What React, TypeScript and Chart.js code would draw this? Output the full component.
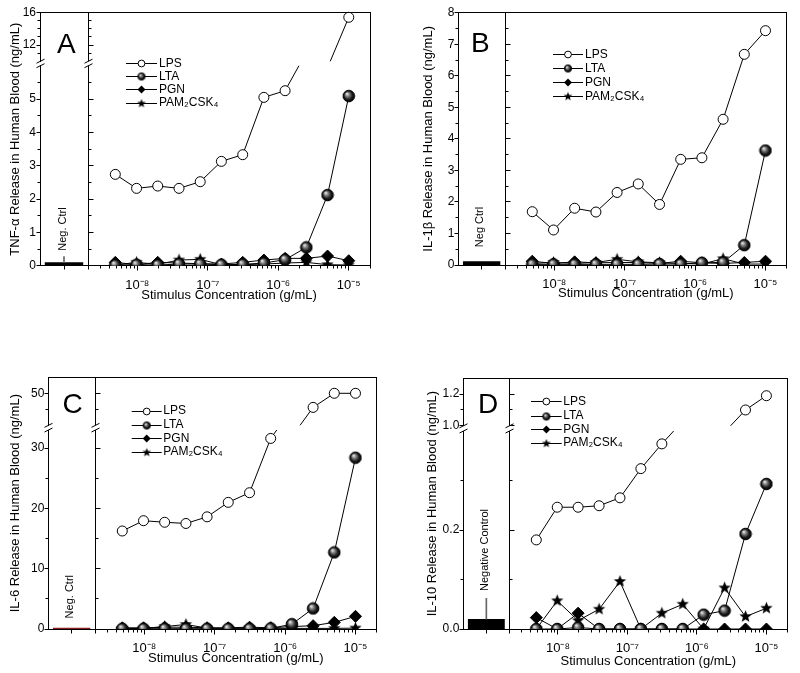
import React, { useEffect, useRef } from 'react';
import { Chart, registerables } from 'chart.js';

Chart.register(...registerables);

const FONT = "'Liberation Sans', Arial, Helvetica, sans-serif";
Chart.defaults.font.family = FONT;
Chart.defaults.color = '#000';

// ---------------- data ----------------
const CONC = [4.88e-9, 9.77e-9, 1.95e-8, 3.91e-8, 7.81e-8, 1.56e-7, 3.13e-7, 6.25e-7, 1.25e-6, 2.5e-6, 5e-6, 1e-5];
const SERIES = ['LPS', 'LTA', 'PGN', 'PAM\u2082CSK\u2084'];
const X_TICKS = [1e-8, 1e-7, 1e-6, 1e-5];
const X_TICK_LABELS = ['10\u207B\u2078', '10\u207B\u2077', '10\u207B\u2076', '10\u207B\u2075'];
const X_TITLE = 'Stimulus Concentration (g/mL)';

// Panel A: TNF-alpha
const TNF_LPS = [2.74, 2.32, 2.39, 2.32, 2.52, 3.13, 3.33, 5.05, 5.25, 6.4, 9.2, 15.43];
const TNF_LTA = [0.02, 0.03, 0.02, 0.05, 0.05, 0.03, 0.04, 0.08, 0.18, 0.55, 2.12, 5.09];
const TNF_PGN = [0.1, 0.03, 0.1, 0.08, 0.06, 0.05, 0.1, 0.17, 0.22, 0.22, 0.29, 0.15];
const TNF_PAM = [0.02, 0.1, 0.04, 0.17, 0.19, 0.03, 0.03, 0.05, 0.08, 0.1, 0.03, 0.02];
const TNF_NEG = 0.1;
const TNF_NEG_ERR = 0.27;
const TNF_HIGH_TICKS = [12, 16];
const TNF_HIGH_MINOR = [11, 13, 14, 15];
const TNF_LOW_TICKS = [0, 1, 2, 3, 4, 5];
const TNF_LOW_MINOR = [0.5, 1.5, 2.5, 3.5, 4.5, 5.5];

// Panel B: IL-1beta
const IL1B_LPS = [1.69, 1.11, 1.8, 1.68, 2.3, 2.57, 1.92, 3.35, 3.4, 4.62, 6.68, 7.43];
const IL1B_LTA = [0.02, 0.02, 0.02, 0.02, 0.02, 0.02, 0.03, 0.03, 0.07, 0.08, 0.63, 3.63];
const IL1B_PGN = [0.12, 0.05, 0.1, 0.07, 0.08, 0.08, 0.05, 0.12, 0.07, 0.05, 0.08, 0.12];
const IL1B_PAM = [0.05, 0.08, 0.05, 0.08, 0.18, 0.1, 0.07, 0.05, 0.03, 0.2, 0.03, 0.03];
const IL1B_NEG = 0.12;
const IL1B_TICKS = [0, 1, 2, 3, 4, 5, 6, 7, 8];
const IL1B_MINOR = [0.5, 1.5, 2.5, 3.5, 4.5, 5.5, 6.5, 7.5];

// Panel C: IL-6
const IL6_LPS = [16.25, 17.96, 17.7, 17.5, 18.6, 21.0, 22.6, 31.6, 36.5, 45.6, 50, 50];
const IL6_LTA = [0.05, 0.05, 0.05, 0.05, 0.05, 0.05, 0.05, 0.1, 0.8, 3.4, 12.7, 28.4];
const IL6_PGN = [0.2, 0.2, 0.3, 0.3, 0.2, 0.2, 0.3, 0.2, 0.4, 0.55, 1.1, 2.1];
const IL6_PAM = [0.05, 0.1, 0.4, 0.75, 0.15, 0.1, 0.2, 0.1, 0.1, 0.1, 0.1, 0.15];
const IL6_NEG = 0.2;
const IL6_HIGH_TICKS = [50];
const IL6_HIGH_MINOR = [45];
const IL6_LOW_TICKS = [0, 10, 20, 30];
const IL6_LOW_MINOR = [5, 15, 25];

// Panel D: IL-10
const IL10_LPS = [0.18, 0.246, 0.246, 0.249, 0.265, 0.324, 0.374, 0.42, 0.7, 0.96, 1.1, 1.19];
const IL10_LTA = [0, 0, 0.003, 0, 0, 0, 0, 0, 0.029, 0.037, 0.192, 0.293];
const IL10_PGN = [0.023, 0, 0.032, 0, 0, 0, 0, 0, 0, 0, 0, 0];
const IL10_PAM = [0, 0.057, 0.017, 0.04, 0.096, 0, 0.032, 0.05, 0, 0.083, 0.025, 0.042];
const IL10_NEG = 0.02;
const IL10_NEG_ERR = 0.062;
const IL10_HIGH_TICKS = [1.0, 1.2];
const IL10_HIGH_MINOR = [1.1];
const IL10_LOW_TICKS = [0, 0.2];
const IL10_LOW_MINOR = [0.1, 0.3];

// ---------------- layout ----------------
type Axis = { min: number; max: number; weight: number; majors: number[]; minors: number[] };
type PanelCfg = {
  left: number; top: number; width: number; height: number;
  pad: { top: number; right: number; bottom: number };
  titleW: number; titlePad: number; tickW: number;
  xH: number; xTitlePad: number;
  negW: number; mainW: number;
  yTitle: string; dec: number;
  letter: string; letterX: number; letterY: number;
  negLabel: string; negLabelX: number; negLabelY: number;
  high?: Axis; gap?: number; low: Axis;
  lps: number[]; lta: number[]; pgn: number[]; pam: number[];
  neg: number; negErr?: number; negColor: string;
  legend: { x1: number; x2: number; tx: number; rows: number[] };
};

const PANELS: PanelCfg[] = [
  {
    left: 0, top: 0, width: 400, height: 330,
    pad: { top: 12.7, right: 30, bottom: 19.3 },
    titleW: 6, titlePad: 7.2, tickW: 34, xH: 45, xTitlePad: 7.9,
    negW: 48, mainW: 282,
    yTitle: 'TNF-\u03B1 Release in Human Blood (ng/mL)', dec: 0,
    letter: 'A', letterX: 57, letterY: 53.3,
    negLabel: 'Neg. Ctrl', negLabelX: 63, negLabelY: 229,
    high: { min: 10, max: 16, weight: 48.5, majors: TNF_HIGH_TICKS, minors: TNF_HIGH_MINOR },
    gap: 4.5,
    low: { min: 0, max: 6, weight: 200, majors: TNF_LOW_TICKS, minors: TNF_LOW_MINOR },
    lps: TNF_LPS, lta: TNF_LTA, pgn: TNF_PGN, pam: TNF_PAM,
    neg: TNF_NEG, negErr: TNF_NEG_ERR, negColor: '#000',
    legend: { x1: 126, x2: 157, tx: 159, rows: [63.3, 76.5, 89.7, 103] },
  },
  {
    left: 400, top: 0, width: 400, height: 330,
    pad: { top: 12.7, right: 13.3, bottom: 20 },
    titleW: 6, titlePad: 20.2, tickW: 52.3, xH: 45, xTitlePad: 8.9,
    negW: 46.7, mainW: 281.7,
    yTitle: 'IL-1\u03B2 Release in Human Blood (ng/mL)', dec: 0,
    letter: 'B', letterX: 71, letterY: 51.7,
    negLabel: 'Neg Ctrl', negLabelX: 80, negLabelY: 227,
    low: { min: 0, max: 8, weight: 1, majors: IL1B_TICKS, minors: IL1B_MINOR },
    lps: IL1B_LPS, lta: IL1B_LTA, pgn: IL1B_PGN, pam: IL1B_PAM,
    neg: IL1B_NEG, negColor: '#000',
    legend: { x1: 153, x2: 183, tx: 185, rows: [54.3, 68.3, 82.3, 96.3] },
  },
  {
    left: 0, top: 340, width: 400, height: 333,
    pad: { top: 37.3, right: 23.3, bottom: 2 },
    titleW: 6, titlePad: 7.2, tickW: 42.3, xH: 42, xTitlePad: 4.9,
    negW: 46.7, mainW: 281.7,
    yTitle: 'IL-6 Release in Human Blood (ng/mL)', dec: 0,
    letter: 'C', letterX: 62.5, letterY: 73,
    negLabel: 'Neg. Ctrl', negLabelX: 70, negLabelY: 256.7,
    high: { min: 40, max: 55, weight: 48, majors: IL6_HIGH_TICKS, minors: IL6_HIGH_MINOR },
    gap: 4.7,
    low: { min: 0, max: 33, weight: 199, majors: IL6_LOW_TICKS, minors: IL6_LOW_MINOR },
    lps: IL6_LPS, lta: IL6_LTA, pgn: IL6_PGN, pam: IL6_PAM,
    neg: IL6_NEG, negColor: '#8b1f1f',
    legend: { x1: 131.7, x2: 161.7, tx: 163.3, rows: [71, 85, 98.3, 112] },
  },
  {
    left: 400, top: 340, width: 400, height: 333,
    pad: { top: 38.3, right: 8.3, bottom: 2 },
    titleW: 6, titlePad: 24.2, tickW: 57.3, xH: 42, xTitlePad: 1.5,
    negW: 46.7, mainW: 281.7,
    yTitle: 'IL-10 Release in Human Blood (ng/mL)', dec: 1,
    letter: 'D', letterX: 78, letterY: 73,
    negLabel: 'Negative Control', negLabelX: 85, negLabelY: 210,
    high: { min: 1.0, max: 1.3, weight: 47.5, majors: IL10_HIGH_TICKS, minors: IL10_HIGH_MINOR },
    gap: 5.2,
    low: { min: 0, max: 0.4, weight: 198, majors: IL10_LOW_TICKS, minors: IL10_LOW_MINOR },
    lps: IL10_LPS, lta: IL10_LTA, pgn: IL10_PGN, pam: IL10_PAM,
    neg: IL10_NEG, negErr: IL10_NEG_ERR, negColor: '#000',
    legend: { x1: 131, x2: 161.7, tx: 163.3, rows: [61.7, 76, 89.3, 103] },
  },
];

// ---------------- marker images ----------------
let MK: any = null;
function markers() {
  if (MK) return MK;
  const star = (r: number, ri: number) => {
    const s = Math.ceil(2 * r + 2);
    const c = document.createElement('canvas');
    c.width = s; c.height = s;
    const g = c.getContext('2d') as CanvasRenderingContext2D;
    g.translate(s / 2, s / 2);
    g.beginPath();
    for (let i = 0; i < 10; i++) {
      const rr = i % 2 === 0 ? r : ri;
      const a = -Math.PI / 2 + (i * Math.PI) / 5;
      g.lineTo(rr * Math.cos(a), rr * Math.sin(a));
    }
    g.closePath();
    g.fillStyle = '#000';
    g.fill();
    return c;
  };
  const sphere = (r: number) => {
    const s = Math.ceil(2 * r + 2);
    const c = document.createElement('canvas');
    c.width = s; c.height = s;
    const g = c.getContext('2d') as CanvasRenderingContext2D;
    const m = s / 2;
    const grad = g.createRadialGradient(m - r * 0.35, m - r * 0.4, r * 0.05, m, m, r);
    grad.addColorStop(0, '#f2f2f2');
    grad.addColorStop(0.3, '#8a8a8a');
    grad.addColorStop(0.7, '#1e1e1e');
    grad.addColorStop(1, '#000');
    g.beginPath();
    g.arc(m, m, r, 0, Math.PI * 2);
    g.fillStyle = grad;
    g.fill();
    g.lineWidth = 1;
    g.strokeStyle = '#000';
    g.stroke();
    return c;
  };
  MK = { star: star(6.5, 2.8), sphere: sphere(5.8), starS: star(4.6, 2), sphereS: sphere(3.6) };
  return MK;
}

// ---------------- plugins ----------------
const clipPlugin = {
  id: 'axisClip',
  beforeDatasetDraw(chart: any, args: any) {
    const ys = args.meta.yScale;
    const ctx = chart.ctx as CanvasRenderingContext2D;
    ctx.save();
    ctx.beginPath();
    const top = ys.id === 'yHigh' ? 0 : ys.top;
    ctx.rect(0, top, chart.width, ys.bottom - top);
    ctx.clip();
  },
  afterDatasetDraw(chart: any) {
    chart.ctx.restore();
  },
};

function decorPlugin(p: PanelCfg) {
  return {
    id: 'decor',
    afterDraw(chart: any) {
      const ctx = chart.ctx as CanvasRenderingContext2D;
      const s = chart.scales;
      const xN = s.xNeg, xM = s.xMain, yL = s.yLow, yH = s.yHigh;
      const a = (v: number) => Math.round(v - 0.5) + 0.5;
      const L = a(xN.left), I = a(xM.left), R = a(xM.right);
      const T = a(chart.chartArea.top), B = a(chart.chartArea.bottom);
      const ln = (x1: number, y1: number, x2: number, y2: number) => {
        ctx.beginPath(); ctx.moveTo(x1, y1); ctx.lineTo(x2, y2); ctx.stroke();
      };
      ctx.save();
      ctx.strokeStyle = '#000';
      ctx.lineWidth = 1;
      ln(L - 0.5, T, R + 0.5, T);
      ln(R, T, R, B);
      const list: [any, Axis][] = [[yL, p.low]];
      if (yH && p.high) list.push([yH, p.high]);
      for (const [sc, ax] of list) {
        ln(I, sc.top, I, sc.bottom);
        for (const v of ax.majors) {
          const y = a(sc.getPixelForValue(v));
          ln(L - 4, y, L, y); ln(I, y, I + 5, y);
        }
        for (const v of ax.minors) {
          const y = a(sc.getPixelForValue(v));
          ln(L - 3, y, L, y); ln(I, y, I + 3, y);
        }
      }
      for (let d = -9; d <= -5; d++) {
        for (let k = 1; k <= 9; k++) {
          const v = k * Math.pow(10, d);
          if (v < xM.min * 1.0001 || v > xM.max) continue;
          const x = a(xM.getPixelForValue(v));
          ln(x, B, x, B + (k === 1 ? 5 : 3));
        }
      }
      const xc = a((xN.left + xN.right) / 2);
      ln(xc, B, xc, B + 4);
      ln(I, B, I, B + 4);
      if (yH) {
        const g1 = yH.bottom, g2 = yL.top;
        for (const x of [L, I]) {
          ln(x - 4, g1 + 2, x + 4, g1 - 2);
          ln(x - 4, g2 + 2, x + 4, g2 - 2);
        }
      }
      ctx.fillStyle = '#000';
      ctx.font = `28px ${FONT}`;
      ctx.textAlign = 'left';
      ctx.textBaseline = 'alphabetic';
      ctx.fillText(p.letter, p.letterX, p.letterY);

      ctx.save();
      ctx.translate(p.negLabelX, p.negLabelY);
      ctx.rotate(-Math.PI / 2);
      ctx.font = `11px ${FONT}`;
      ctx.textAlign = 'center';
      ctx.textBaseline = 'middle';
      ctx.fillText(p.negLabel, 0, 0);
      ctx.restore();

      const M = markers();
      const lg = p.legend;
      SERIES.forEach((name, i) => {
        const y = lg.rows[i];
        ln(lg.x1, a(y), lg.x2, a(y));
        const cx = (lg.x1 + lg.x2) / 2;
        if (i === 0) {
          ctx.beginPath(); ctx.arc(cx, a(y), 3.4, 0, Math.PI * 2);
          ctx.fillStyle = '#fff'; ctx.fill(); ctx.stroke();
        } else if (i === 1) {
          ctx.drawImage(M.sphereS, cx - M.sphereS.width / 2, a(y) - M.sphereS.height / 2);
        } else if (i === 2) {
          const r = 4;
          ctx.beginPath(); ctx.moveTo(cx, a(y) - r); ctx.lineTo(cx + r, a(y)); ctx.lineTo(cx, a(y) + r); ctx.lineTo(cx - r, a(y)); ctx.closePath();
          ctx.fillStyle = '#000'; ctx.fill();
        } else {
          ctx.drawImage(M.starS, cx - M.starS.width / 2, a(y) - M.starS.height / 2);
        }
        ctx.fillStyle = '#000';
        ctx.font = `12px ${FONT}`;
        ctx.textAlign = 'left';
        ctx.textBaseline = 'middle';
        ctx.fillText(name, lg.tx, y);
      });
      ctx.restore();
    },
  };
}

// ---------------- chart config ----------------
function buildConfig(p: PanelCfg): any {
  const M = markers();
  const styles: any[] = [
    { ps: 'circle', r: 5, bg: '#fff' },
    { ps: M.sphere, r: 6, bg: '#000' },
    { ps: 'rectRot', r: 6, bg: '#000' },
    { ps: M.star, r: 6, bg: '#000' },
  ];
  const vals = [p.lps, p.lta, p.pgn, p.pam];
  const mk = (v: number[], i: number, yAxisID: string) => ({
    type: 'line',
    label: SERIES[i],
    data: CONC.map((x, k) => ({ x, y: v[k] })),
    xAxisID: 'xMain',
    yAxisID,
    borderColor: '#000',
    borderWidth: 1,
    tension: 0,
    fill: false,
    pointStyle: styles[i].ps,
    pointRadius: styles[i].r,
    pointBackgroundColor: styles[i].bg,
    pointBorderColor: '#000',
    pointBorderWidth: 1,
    clip: false,
  });
  const datasets: any[] = vals.map((v, i) => mk(v, i, 'yLow'));
  if (p.high) datasets.push(mk(p.lps, 0, 'yHigh'));
  if (p.negErr !== undefined) {
    datasets.push({
      type: 'bar', data: [[p.neg, p.negErr]], xAxisID: 'xNeg', yAxisID: 'yLow',
      backgroundColor: '#666', barThickness: 1, grouped: false, clip: false,
    });
  }
  datasets.push({
    type: 'bar', data: [p.neg], xAxisID: 'xNeg', yAxisID: 'yLow',
    backgroundColor: p.negColor, barPercentage: 0.8, categoryPercentage: 1, grouped: false, clip: false,
  });

  const fmt = (v: any) => Number(v).toFixed(p.dec);
  const yAxis = (ax: Axis) => ({
    type: 'linear', position: 'left', stack: 'y', stackWeight: ax.weight,
    min: ax.min, max: ax.max,
    grid: { display: false, drawTicks: false },
    border: { display: true, color: '#000', width: 1 },
    ticks: { padding: 4, font: { size: 12 }, color: '#000', autoSkip: false, callback: fmt },
    afterBuildTicks: (sc: any) => { sc.ticks = ax.majors.map((value) => ({ value })); },
    afterFit: (sc: any) => { sc.width = p.tickW; },
  });

  // note: stacked left axes are laid out bottom-up in definition order
  const scales: any = {
    yTitle: {
      type: 'linear', position: 'left', weight: 5,
      grid: { display: false, drawTicks: false }, border: { display: false }, ticks: { display: false },
      title: { display: true, text: p.yTitle, color: '#000', font: { size: 13 }, padding: { top: p.titlePad, bottom: 0 } },
      afterFit: (sc: any) => { sc.width = p.titleW; },
    },
  };
  scales.yLow = yAxis(p.low);
  if (p.high) {
    scales.yGap = {
      type: 'linear', position: 'left', stack: 'y', stackWeight: p.gap, display: false,
      afterFit: (sc: any) => { sc.width = 0; },
    };
    scales.yHigh = yAxis(p.high);
  }
  scales.xNeg = {
    type: 'category', labels: ['Neg'], position: 'bottom', stack: 'x', stackWeight: p.negW, offset: true,
    grid: { display: false }, border: { display: true, color: '#000', width: 1 }, ticks: { display: false },
    afterFit: (sc: any) => { sc.height = p.xH; },
  };
  scales.xMain = {
    type: 'logarithmic', position: 'bottom', stack: 'x', stackWeight: p.mainW,
    min: 2e-9, max: 2e-5,
    grid: { display: false }, border: { display: true, color: '#000', width: 1 },
    ticks: {
      padding: 4, font: { size: 13 }, color: '#000', autoSkip: false, maxRotation: 0, minRotation: 0,
      callback: (_v: any, i: number) => X_TICK_LABELS[i],
    },
    afterBuildTicks: (sc: any) => { sc.ticks = X_TICKS.map((value) => ({ value })); },
    title: { display: true, text: X_TITLE, color: '#000', font: { size: 13 }, padding: { top: 0, bottom: p.xTitlePad } },
    afterFit: (sc: any) => { sc.height = p.xH; },
  };

  return {
    type: 'line',
    data: { datasets },
    options: {
      responsive: false,
      animation: false,
      events: [],
      layout: { padding: { left: 0, top: p.pad.top, right: p.pad.right, bottom: p.pad.bottom } },
      plugins: { legend: { display: false }, tooltip: { enabled: false }, title: { display: false } },
      scales,
    },
    plugins: [clipPlugin, decorPlugin(p)],
  };
}

function Panel({ cfg }: { cfg: PanelCfg }) {
  const ref = useRef<HTMLCanvasElement>(null);
  useEffect(() => {
    const canvas = ref.current;
    if (!canvas) return;
    const chart = new Chart(canvas, buildConfig(cfg));
    return () => chart.destroy();
  }, [cfg]);
  return (
    <canvas
      ref={ref}
      width={cfg.width}
      height={cfg.height}
      style={{ position: 'absolute', left: cfg.left, top: cfg.top, width: cfg.width, height: cfg.height }}
    />
  );
}

export default function App() {
  return (
    <div style={{ position: 'absolute', left: 0, top: 0, width: 800, height: 673, background: '#fff', overflow: 'hidden' }}>
      {PANELS.map((p) => (
        <Panel key={p.letter} cfg={p} />
      ))}
    </div>
  );
}
